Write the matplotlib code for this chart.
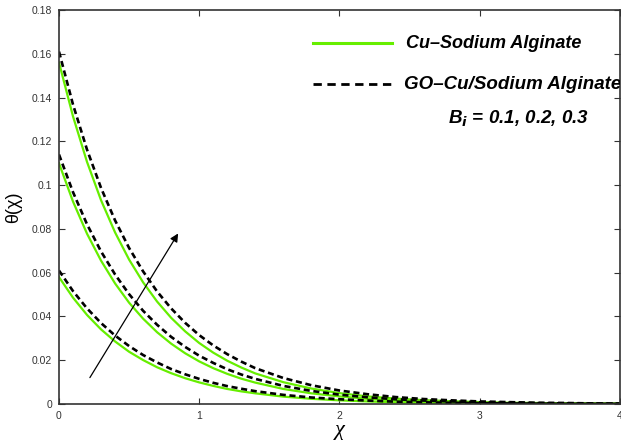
import matplotlib
matplotlib.use('Agg')
import matplotlib.pyplot as plt

plt.rcParams['font.family'] = ['Liberation Sans', 'DejaVu Sans']

# значения
chi = [0.0, 0.1, 0.2, 0.3, 0.4, 0.5, 0.6, 0.7, 0.8, 0.9, 1.0, 1.1, 1.2, 1.3, 1.4,
       1.6, 1.8, 2.0, 2.2, 2.4, 2.6, 2.8, 3.0, 3.2, 3.4, 3.6, 3.8, 4.0]

# Cu-Sodium Alginate, Bi = 0.1, 0.2, 0.3
cu_01 = [.0580, .0486, .0407, .0341, .0286, .0239, .0201, .0168, .0141, .0118, .0099,
         .0083, .0069, .0058, .0049, .0034, .0024, .0017, .0012, .0008, .0006, .0004,
         .0003, .0002, .0001, .0001, .0001, .0000]
cu_02 = [.1100, .0925, .0778, .0655, .0551, .0463, .0390, .0328, .0276, .0232, .0195,
         .0164, .0138, .0116, .0098, .0069, .0049, .0035, .0024, .0017, .0012, .0009,
         .0006, .0004, .0003, .0002, .0002, .0001]
cu_03 = [.1560, .1314, .1106, .0931, .0784, .0660, .0556, .0468, .0394, .0332, .0279,
         .0235, .0198, .0167, .0140, .0100, .0071, .0050, .0035, .0025, .0018, .0013,
         .0009, .0006, .0005, .0003, .0002, .0002]

# GO-Cu/Sodium Alginate, Bi = 0.1, 0.2, 0.3
go_01 = [.0610, .0516, .0437, .0370, .0313, .0265, .0224, .0190, .0160, .0136, .0115,
         .0097, .0082, .0070, .0059, .0042, .0030, .0022, .0016, .0011, .0008, .0006,
         .0004, .0003, .0002, .0001, .0001, .0001]
go_02 = [.1140, .0968, .0821, .0697, .0592, .0502, .0426, .0362, .0307, .0261, .0221,
         .0188, .0159, .0135, .0115, .0083, .0060, .0043, .0031, .0022, .0016, .0012,
         .0008, .0006, .0004, .0003, .0002, .0002]
go_03 = [.1610, .1368, .1162, .0987, .0839, .0713, .0606, .0514, .0437, .0371, .0315,
         .0268, .0228, .0194, .0164, .0119, .0086, .0062, .0045, .0032, .0023, .0017,
         .0012, .0009, .0006, .0005, .0003, .0002]

xticks = [0, 1, 2, 3, 4]
yticks = [0, 0.02, 0.04, 0.06, 0.08, 0.1, 0.12, 0.14, 0.16, 0.18]
ylabels = ['0', '0.02', '0.04', '0.06', '0.08', '0.1', '0.12', '0.14', '0.16', '0.18']

green = '#66ee00'
dash = (0, (2.3, 1.4))

fig = plt.figure(figsize=(6.21, 4.45), dpi=100)
ax = fig.add_axes([0.095, 0.092, 0.903, 0.8855])

for y in (cu_01, cu_02, cu_03):
    ax.plot(chi, y, color=green, lw=1.6)
for y in (go_01, go_02, go_03):
    ax.plot(chi, y, color='black', lw=1.9, ls=dash)

# стрелка роста Bi
ax.annotate('', xy=(0.86, 0.079), xytext=(0.21, 0.011),
            arrowprops=dict(arrowstyle='-|>', color='black', lw=0.9,
                            mutation_scale=12))

ax.set_xlim(0, 4)
ax.set_ylim(0, 0.18)
ax.set_xticks(xticks)
ax.set_xticklabels([str(t) for t in xticks])
ax.set_yticks(yticks)
ax.set_yticklabels(ylabels)
ax.tick_params(direction='in', top=True, right=True, labelsize=7.5,
               length=4, width=0.8, colors='#333333', pad=5)
for s in ax.spines.values():
    s.set_linewidth(1.2)
    s.set_color('#333333')

ax.set_xlabel('χ', fontsize=16, labelpad=0, family=['Liberation Serif', 'DejaVu Serif'],
              style='italic')
ax.set_ylabel('θ(χ)', fontsize=13, labelpad=7)

# подписи-легенда как в оригинале
ax.plot([0.453, 0.594], [0.916, 0.916], color=green, lw=2.2,
        transform=ax.transAxes)
ax.text(0.619, 0.916, 'Cu–Sodium Alginate', transform=ax.transAxes,
        fontsize=13, fontweight='bold', style='italic', va='center', clip_on=True)
ax.plot([0.453, 0.594], [0.812, 0.812], color='black', lw=2.0, ls=(0, (3, 2)),
        transform=ax.transAxes)
ax.text(0.616, 0.812, 'GO–Cu/Sodium Alginate', transform=ax.transAxes,
        fontsize=13.5, fontweight='bold', style='italic', va='center', clip_on=True)
ax.text(0.693, 0.724, r'B$_{\boldsymbol{i}}$ = 0.1, 0.2, 0.3', transform=ax.transAxes,
        fontsize=13.5, fontweight='bold', style='italic', va='center')

fig.savefig('out.png', dpi=100)
